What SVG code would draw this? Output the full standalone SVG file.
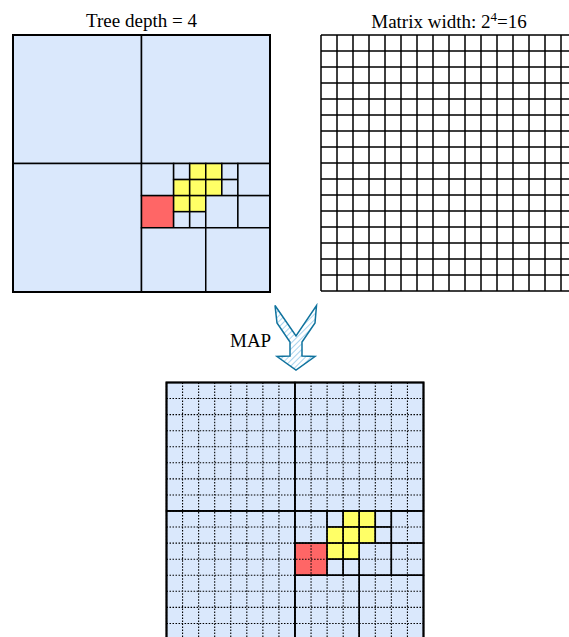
<svg xmlns="http://www.w3.org/2000/svg" xmlns:xlink="http://www.w3.org/1999/xlink" width="569" height="637" viewBox="0 0 569 637">
  <style>
    .b { fill: #dae8fc; stroke: #000; stroke-width: 1.5; }
    .y { fill: #ffff66; stroke: #000; stroke-width: 1.5; }
    .r { fill: #ff6666; stroke: #000; stroke-width: 1.5; }
    .o { fill: none; stroke: #000; stroke-width: 2; }
    .g { stroke: #000; stroke-width: 1.5; fill: none; }
    .d { stroke: #000; stroke-width: 1.1; stroke-dasharray: 1.5 1.5; fill: none; }
    .t { font-family: "Liberation Serif", "Times New Roman", serif; font-size: 19px; fill: #000; }
  </style>
  <defs>
    <pattern id="hatch" patternUnits="userSpaceOnUse" width="4" height="4" patternTransform="rotate(45)">
      <rect width="4" height="4" fill="#ffffff"/>
      <line x1="0" y1="0" x2="0" y2="4" stroke="#a9d4ee" stroke-width="2"/>
    </pattern>
    <g id="quad">
      <rect class="b" x="0" y="0" width="128" height="128"/>
      <rect class="b" x="128" y="0" width="128" height="128"/>
      <rect class="b" x="0" y="128" width="128" height="128"/>
      <rect class="b" x="128" y="128" width="32" height="32"/>
      <rect class="b" x="160" y="128" width="16" height="16"/>
      <rect class="y" x="176" y="128" width="16" height="16"/>
      <rect class="y" x="160" y="144" width="16" height="16"/>
      <rect class="y" x="176" y="144" width="16" height="16"/>
      <rect class="r" x="128" y="160" width="32" height="32"/>
      <rect class="y" x="160" y="160" width="16" height="16"/>
      <rect class="y" x="176" y="160" width="16" height="16"/>
      <rect class="b" x="160" y="176" width="16" height="16"/>
      <rect class="b" x="176" y="176" width="16" height="16"/>
      <rect class="y" x="192" y="128" width="16" height="16"/>
      <rect class="b" x="208" y="128" width="16" height="16"/>
      <rect class="y" x="192" y="144" width="16" height="16"/>
      <rect class="b" x="208" y="144" width="16" height="16"/>
      <rect class="b" x="224" y="128" width="32" height="32"/>
      <rect class="b" x="192" y="160" width="32" height="32"/>
      <rect class="b" x="224" y="160" width="32" height="32"/>
      <rect class="b" x="128" y="192" width="64" height="64"/>
      <rect class="b" x="192" y="192" width="64" height="64"/>
    </g>
    <path id="gridlines" d="M0 0V256M16 0V256M32 0V256M48 0V256M64 0V256M80 0V256M96 0V256M112 0V256M128 0V256M144 0V256M160 0V256M176 0V256M192 0V256M208 0V256M224 0V256M240 0V256M256 0V256M0 0H256M0 16H256M0 32H256M0 48H256M0 64H256M0 80H256M0 96H256M0 112H256M0 128H256M0 144H256M0 160H256M0 176H256M0 192H256M0 208H256M0 224H256M0 240H256M0 256H256"/>
  </defs>

  <g id="tree-title">
    <text class="t" x="141.5" y="27" text-anchor="middle">Tree depth = 4</text>
  </g>
  <g id="quadtree" transform="translate(13,35) scale(1.0039)">
    <use xlink:href="#quad"/>
    <rect class="o" x="0" y="0" width="256" height="256"/>
  </g>

  <g id="matrix-title">
    <text class="t" x="449" y="28" text-anchor="middle">Matrix width: 2<tspan font-size="13" dy="-7">4</tspan><tspan dy="7">=16</tspan></text>
  </g>
  <g id="matrix" transform="translate(321,35)">
    <rect x="0" y="0" width="256" height="256" fill="#ffffff"/>
    <use xlink:href="#gridlines" class="g"/>
  </g>

  <g id="connectors">
    <g id="map-arrow">
      <path d="M275 305.5 L277 323 L290 342 L290 356 L277 356.5 L296 370 L315 356.5 L302 356 L302 342 L315 323 L316.5 305.5 L296 336 Z" fill="url(#hatch)" stroke="#10739e" stroke-width="1.5" stroke-linejoin="miter"/>
    </g>
  </g>
  <g id="map-label">
    <text class="t" x="230" y="347">MAP</text>
  </g>

  <g id="mapped" transform="translate(166.5,382.5) scale(1.0039)">
    <use xlink:href="#quad"/>
    <use xlink:href="#gridlines" class="d"/>
    <rect class="o" x="0" y="0" width="256" height="256"/>
    <path class="g" d="M128 0V256M0 128H256"/>
  </g>
</svg>
